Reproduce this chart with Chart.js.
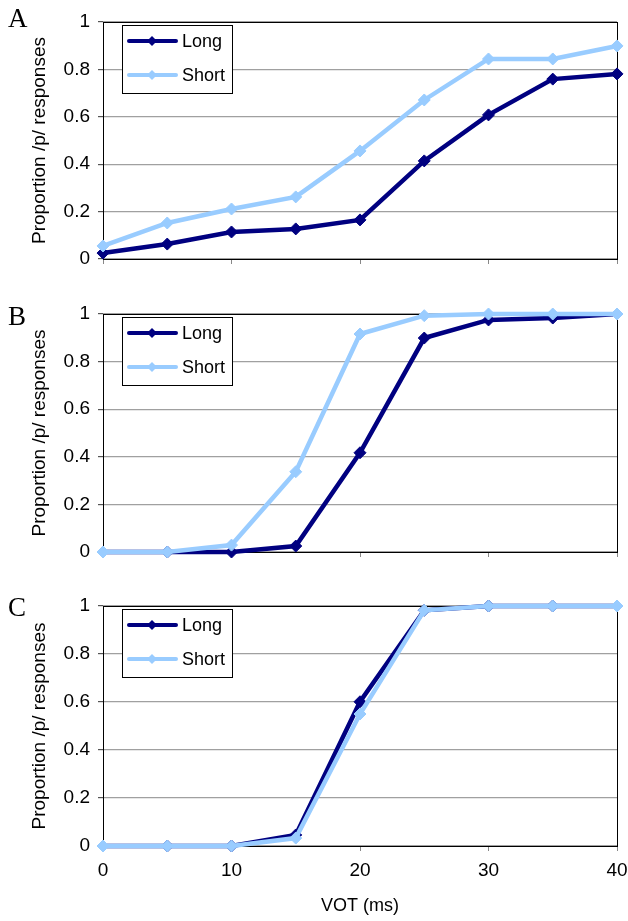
<!DOCTYPE html>
<html>
<head>
<meta charset="utf-8">
<script src="https://cdn.jsdelivr.net/npm/chart.js@4"></script>
<style>
  html, body { margin: 0; padding: 0; background: #fff; }
  #page { position: relative; width: 628px; height: 921px; overflow: hidden; }
  .panel { position: absolute; left: 0; width: 628px; }
  .letter { position: absolute; left: 8px; font: 27px/1 'Liberation Serif', 'Times New Roman', serif; color: #000; }
</style>
</head>
<body>
<div id="page">
  <div class="panel" style="top:0;height:290px"><canvas id="chartA" width="628" height="290"></canvas></div>
  <div class="panel" style="top:290px;height:292px"><canvas id="chartB" width="628" height="292"></canvas></div>
  <div class="panel" style="top:582px;height:339px"><canvas id="chartC" width="628" height="339"></canvas></div>
  <div class="letter" style="top:5px">A</div>
  <div class="letter" style="top:303px">B</div>
  <div class="letter" style="top:594px">C</div>
</div>
<script>
/* ---- data ---- */
const VOT     = [0, 5, 10, 15, 20, 25, 30, 35, 40];
const A_LONG  = [0.025, 0.063, 0.114, 0.127, 0.165, 0.414, 0.608, 0.759, 0.781];
const A_SHORT = [0.055, 0.152, 0.211, 0.262, 0.456, 0.671, 0.844, 0.844, 0.899];
const B_LONG  = [0, 0, 0, 0.025, 0.417, 0.899, 0.975, 0.983, 1];
const B_SHORT = [0, 0, 0.029, 0.337, 0.916, 0.993, 1, 1, 1];
const C_LONG  = [0, 0, 0, 0.046, 0.601, 0.982, 1, 1, 1];
const C_SHORT = [0, 0, 0, 0.033, 0.55, 0.982, 1, 1, 1];

const LONG_COLOR  = '#000080';
const SHORT_COLOR = '#99ccff';
const GRID_COLOR  = '#a0a0a0';
const FONT        = "'Liberation Sans', Arial, sans-serif";

Chart.defaults.font.family = FONT;
Chart.defaults.font.size = 19;
Chart.defaults.color = '#000';

/* frame round the plot area + boxed legend in the top-left corner */
const framePlugin = {
    id: 'frame',
    beforeDatasetsDraw(chart) {
        const { ctx, chartArea: a } = chart;
        ctx.save();
        ctx.strokeStyle = '#000';
        ctx.lineWidth = 1;
        ctx.strokeRect(a.left + 0.5, a.top + 0.5, a.right - a.left, a.bottom - a.top);
        ctx.restore();
    },
    afterDatasetsDraw(chart) {
        const { ctx, chartArea: a } = chart;
        const x = a.left + 19, y = a.top + 3, w = 110, h = 68;
        ctx.save();
        ctx.fillStyle = '#fff';
        ctx.fillRect(x, y, w, h);
        ctx.strokeStyle = '#000';
        ctx.lineWidth = 1;
        ctx.strokeRect(x + 0.5, y + 0.5, w, h);
        chart.data.datasets.forEach((ds, i) => {
            const ly = y + 16 + i * 34;
            ctx.strokeStyle = ds.borderColor;
            ctx.lineWidth = 4;
            ctx.lineCap = 'round';
            ctx.beginPath();
            ctx.moveTo(x + 7, ly);
            ctx.lineTo(x + 54, ly);
            ctx.stroke();
            ctx.fillStyle = ds.borderColor;
            ctx.beginPath();
            ctx.moveTo(x + 30, ly - 5);
            ctx.lineTo(x + 35, ly);
            ctx.lineTo(x + 30, ly + 5);
            ctx.lineTo(x + 25, ly);
            ctx.closePath();
            ctx.fill();
            ctx.fillStyle = '#000';
            ctx.font = '18px ' + FONT;
            ctx.textBaseline = 'middle';
            ctx.fillText(ds.label, x + 60, ly + 1);
        });
        ctx.restore();
    },
};

function series(label, values, color, order) {
    return {
        label,
        data: VOT.map((v, i) => ({ x: v, y: values[i] })),
        borderColor: color,
        backgroundColor: color,
        borderWidth: 4.5,
        pointStyle: 'rectRot',
        pointRadius: 6,
        pointBorderWidth: 1,
        pointBorderColor: color,
        pointBackgroundColor: color,
        tension: 0,
        clip: false,
        order,
    };
}

function makePanel(id, longVals, shortVals, padTop, xHeight, showX) {
    return new Chart(document.getElementById(id), {
        type: 'line',
        plugins: [framePlugin],
        data: {
            datasets: [
                series('Long', longVals, LONG_COLOR, 2),
                series('Short', shortVals, SHORT_COLOR, 1),
            ],
        },
        options: {
            responsive: false,
            animation: false,
            layout: { padding: { top: padTop, right: 11, bottom: 0, left: 0 } },
            plugins: { legend: { display: false }, tooltip: { enabled: false } },
            scales: {
                x: {
                    type: 'linear',
                    min: 0, max: 40,
                    ticks: { stepSize: 10, display: showX, padding: 8, maxRotation: 0 },
                    grid: { drawOnChartArea: false, drawTicks: true, tickLength: 5, tickColor: '#888' },
                    border: { display: false },
                    title: { display: showX, text: 'VOT (ms)', font: { size: 18 }, padding: { top: 0, bottom: 4 } },
                    afterFit(s) { s.height = xHeight; s.paddingLeft = 0; s.paddingRight = 0; },
                },
                y: {
                    min: 0, max: 1,
                    ticks: { stepSize: 0.2, padding: 8, callback: v => String(Number(v.toFixed(1))) },
                    grid: { color: GRID_COLOR, lineWidth: 1.2, tickLength: 5, tickColor: '#555' },
                    border: { display: false },
                    title: { display: true, text: 'Proportion /p/ responses', font: { size: 19 }, padding: { top: 28, bottom: 0 } },
                    afterFit(s) { s.width = 103; },
                },
            },
        },
    });
}

makePanel('chartA', A_LONG, A_SHORT, 22, 31, false);
makePanel('chartB', B_LONG, B_SHORT, 24, 30, false);
makePanel('chartC', C_LONG, C_SHORT, 24, 75, true);
</script>
</body>
</html>
